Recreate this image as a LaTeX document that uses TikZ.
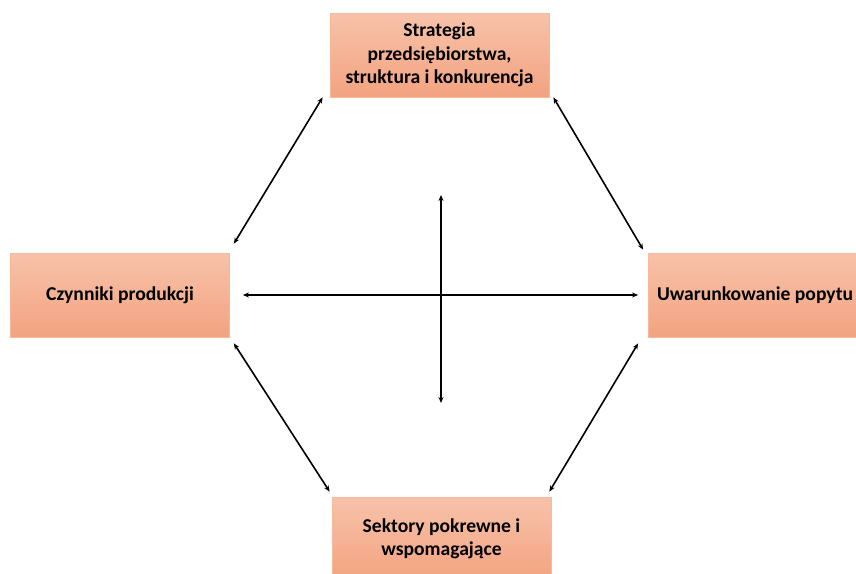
\documentclass[tikz,border=0pt]{standalone}
\usepackage{fontspec}
\setmainfont{Carlito}
\usetikzlibrary{calc,arrows.meta}
\definecolor{boxtop}{RGB}{247,194,170}
\definecolor{boxbot}{RGB}{243,163,128}
\definecolor{boxline}{RGB}{247,185,155}
\tikzset{
  box/.style={draw=boxline, line width=0.8pt, top color=boxtop, bottom color=boxbot,
    minimum width=219pt, minimum height=84pt, inner sep=2pt, align=center,
    font=\fontsize{19.6}{23.5}\selectfont\bfseries, text=black},
  arr/.style={line width=1.6pt, {Stealth[length=6pt,width=5pt]}-{Stealth[length=6pt,width=5pt]}}
}
\begin{document}
\begin{tikzpicture}[x=1pt,y=-1pt]
\useasboundingbox (0,0) rectangle (856,573);
\clip (0,0) rectangle (856,573);
\node[box] (top) at (439.5,55) {Strategia\\przedsiębiorstwa,\\struktura i konkurencja};
\node[box] (left) at (120,295) {Czynniki produkcji};
\node[box, text width=202pt, align=flush left] (right) at (758,295) {Uwarunkowanie popytu};
\node[box] (bottom) at (441.5,539) {Sektory pokrewne i\\wspomagające};
\coordinate (vtop) at (441,195);
\coordinate (vbot) at (441,403);
\draw[arr, shorten <=13pt, shorten >=10pt] (left.east) -- (right.west);
\draw[arr] (vtop) -- (vbot);
\draw[arr] ($(top.south west)+(-7,0)$) -- ($(left.north east)+(4,-9)$);
\draw[arr] ($(top.south east)+(4,0)$) -- ($(right.north west)+(-5,-3)$);
\draw[arr] ($(left.south east)+(4,6)$) -- ($(bottom.north west)+(-2,-5)$);
\draw[arr] ($(right.south west)+(-10,6)$) -- ($(bottom.north east)+(-2,-5)$);
\end{tikzpicture}
\end{document}
